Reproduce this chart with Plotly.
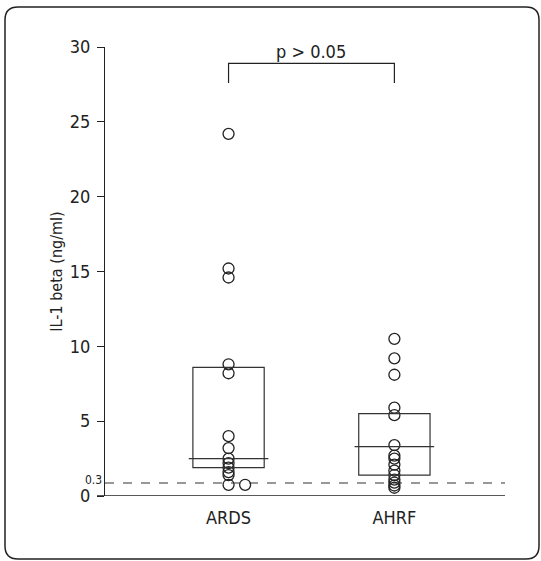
import plotly.graph_objects as go

# ---- data ----
groups = ["ARDS", "AHRF"]
ards_values = [24.2, 15.2, 14.6, 8.8, 8.2, 4.0, 3.2, 2.5, 2.2, 1.9, 1.6, 1.4, 0.75, 0.75]
ards_offsets = [0, 0, 0, 0, 0, 0, 0, 0, 0, 0, 0, 0, 0, 0.1]
ahrf_values = [10.5, 9.2, 8.1, 5.9, 5.4, 3.4, 2.7, 2.5, 2.1, 1.7, 1.4, 1.1, 0.9, 0.7, 0.55]
box_q1 = [1.9, 1.4]
box_q3 = [8.6, 5.5]
box_median = [2.5, 3.3]
y_ticks = [0, 5, 10, 15, 20, 25, 30]
detect_label = "0.3"
detect_pos = 0.87   # drawn position of the 0.3 detection limit line
p_text = "p > 0.05"
bracket_top = 28.9
bracket_leg = 27.6

FONT = "DejaVu Sans Condensed, Liberation Sans Narrow, Arial Narrow, Liberation Sans"

L, R, T, B = 105, 36, 47, 65
fig = go.Figure()

xs_ards = [0 + o for o in ards_offsets]
xs_ahrf = [1] * len(ahrf_values)
fig.add_trace(go.Scatter(
    x=xs_ards + xs_ahrf, y=ards_values + ahrf_values, mode="markers",
    marker=dict(symbol="circle-open", size=11, color="#222", line=dict(width=1.3)),
    showlegend=False, hoverinfo="y"))

shapes = []
half_w = 0.215
for i in range(2):
    shapes.append(dict(type="rect", xref="x", yref="y", x0=i - half_w, x1=i + half_w,
                       y0=box_q1[i], y1=box_q3[i], line=dict(color="#333", width=1.2)))
    shapes.append(dict(type="line", xref="x", yref="y", x0=i - half_w - 0.025, x1=i + half_w + 0.025,
                       y0=box_median[i], y1=box_median[i], line=dict(color="#333", width=1.2)))
# detection limit dashed line
shapes.append(dict(type="line", xref="paper", yref="y", x0=0, x1=1, y0=detect_pos, y1=detect_pos,
                   line=dict(color="#333", width=1.2, dash="dash")))
# significance bracket
shapes.append(dict(type="path", xref="x", yref="y",
                   path=f"M {0},{bracket_leg} L {0},{bracket_top} L {1},{bracket_top} L {1},{bracket_leg}",
                   line=dict(color="#222", width=1.2)))

# rounded frame around the figure (paper coords)
W, H = 541.0 - L - R, 561.0 - T - B
def px(x): return (x - L) / W
def py(y): return (561 - B - y) / H
x0, x1, y0, y1, r = 5, 539, 7, 559, 13
path = (f"M {px(x0+r)},{py(y0)} L {px(x1-r)},{py(y0)} Q {px(x1)},{py(y0)} {px(x1)},{py(y0+r)} "
        f"L {px(x1)},{py(y1-r)} Q {px(x1)},{py(y1)} {px(x1-r)},{py(y1)} "
        f"L {px(x0+r)},{py(y1)} Q {px(x0)},{py(y1)} {px(x0)},{py(y1-r)} "
        f"L {px(x0)},{py(y0+r)} Q {px(x0)},{py(y0)} {px(x0+r)},{py(y0)} Z")
shapes.append(dict(type="path", xref="paper", yref="paper", path=path,
                   line=dict(color="#222", width=1.5)))

fig.update_layout(
    width=541, height=561,
    margin=dict(l=L, r=R, t=T, b=B),
    paper_bgcolor="white", plot_bgcolor="white",
    font=dict(family=FONT, color="#222", size=15),
    shapes=shapes,
    xaxis=dict(range=[-0.745, 1.667], tickvals=[0, 1], ticktext=groups,
               showgrid=False, zeroline=False, showline=False, ticks="",
               tickfont=dict(size=18), ticklabelstandoff=9),
    yaxis=dict(range=[0, 30], tickvals=y_ticks, showgrid=False, zeroline=False,
               showline=True, linecolor="#222", linewidth=1.3,
               ticks="outside", ticklen=7, tickcolor="#222", tickwidth=1.2,
               tickfont=dict(size=18), ticklabelstandoff=3,
               title=dict(text="IL-1 beta (ng/ml)", font=dict(size=16), standoff=3)),
    annotations=[
        dict(x=0.5, y=bracket_top, xref="x", yref="y", text=p_text, showarrow=False,
             yanchor="bottom", yshift=-1, font=dict(size=18)),
        dict(x=0, y=detect_pos, xref="paper", yref="y", text=detect_label, showarrow=False,
             xanchor="right", xshift=-1, yshift=3, font=dict(size=12)),
    ],
)
# x axis baseline (extends slightly left of y axis)
fig.add_shape(type="line", xref="paper", yref="y", x0=-0.02, x1=1, y0=0, y1=0,
              line=dict(color="#222", width=1.5))

fig.write_html("out.html", config={"displayModeBar": False},
               post_script="document.body.style.margin='0';")
